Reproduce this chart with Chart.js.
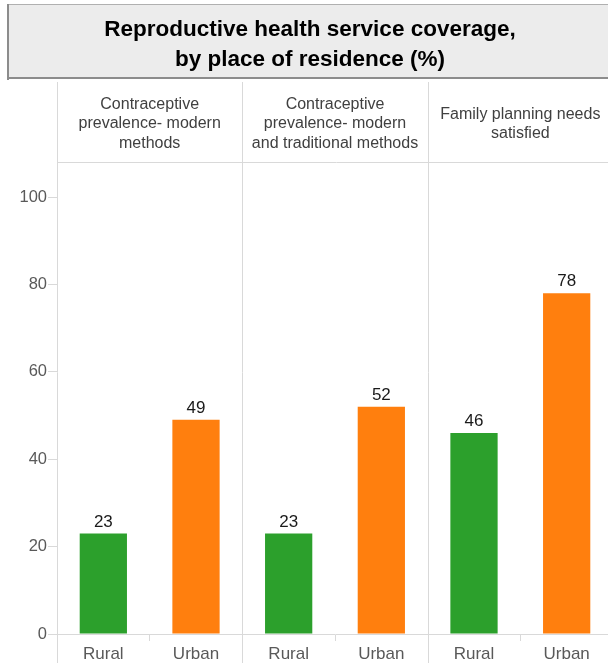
<!DOCTYPE html>
<html>
<head>
<meta charset="utf-8">
<script src="https://cdn.jsdelivr.net/npm/chart.js@4.4.1/dist/chart.umd.min.js"></script>
<style>
  html, body { margin: 0; padding: 0; background: #ffffff; overflow: hidden; }
  #wrap { width: 616px; height: 663px; }
</style>
</head>
<body>
<div id="wrap"><canvas id="chart" width="616" height="663"></canvas></div>
<script>
// Coverage indicators (panels) and place of residence (bars in each panel)
const indicators = [
  ['Contraceptive', 'prevalence- modern', 'methods'],
  ['Contraceptive', 'prevalence- modern', 'and traditional methods'],
  ['Family planning needs', 'satisfied']
];
const residence = ['Rural', 'Urban'];
const ruralValues = [23, 23, 46];
const urbanValues = [49, 52, 78];
const yTicks = [0, 20, 40, 60, 80, 100];
const titleLines = ['Reproductive health service coverage,', 'by place of residence (%)'];

const GREEN = '#2ca02c';
const ORANGE = '#ff7f0e';
const RULE = '#d9d9d9';
const FAMILY = '"Liberation Sans", Arial, sans-serif';

// Flatten panels into one category axis: Rural/Urban for each indicator
const labels = [];
const values = [];
const colors = [];
indicators.forEach((_, i) => {
  labels.push(residence[0]); values.push(ruralValues[i]); colors.push(GREEN);
  labels.push(residence[1]); values.push(urbanValues[i]); colors.push(ORANGE);
});

const HEADER_TOP = 82;
const HEADER_BOTTOM = 162;

const decorations = {
  id: 'decorations',
  beforeDraw(chart) {
    const ctx = chart.ctx;
    const x = chart.scales.x;
    const area = chart.chartArea;
    const half = (x.getPixelForValue(1) - x.getPixelForValue(0)) / 2;

    ctx.save();
    // Title box
    ctx.fillStyle = '#ececec';
    ctx.fillRect(8, 4, chart.width, 74);
    ctx.strokeStyle = '#b0b0b0';
    ctx.lineWidth = 1;
    ctx.strokeRect(8.5, 4.5, chart.width, 74);
    ctx.fillStyle = '#8c8c8c';
    ctx.fillRect(7, 4, 2, 76);
    ctx.fillRect(7, 77, chart.width, 2);

    ctx.fillStyle = '#000000';
    ctx.font = 'bold 22.5px ' + FAMILY;
    ctx.textAlign = 'center';
    ctx.textBaseline = 'middle';
    ctx.fillText(titleLines[0], 310, 30);
    ctx.fillText(titleLines[1], 310, 60);

    // Panel separators, header rule and header captions
    ctx.strokeStyle = RULE;
    ctx.lineWidth = 1;
    ctx.beginPath();
    for (let p = 0; p <= indicators.length; p++) {
      const px = Math.round(x.getPixelForValue(p * 2) - half) + 0.5;
      ctx.moveTo(px, HEADER_TOP);
      ctx.lineTo(px, chart.height);
    }
    ctx.moveTo(area.left, HEADER_BOTTOM + 0.5);
    ctx.lineTo(chart.width, HEADER_BOTTOM + 0.5);
    ctx.stroke();

    ctx.fillStyle = '#404040';
    ctx.font = '16px ' + FAMILY;
    const lineH = 19.5;
    indicators.forEach((lines, p) => {
      const cx = (x.getPixelForValue(p * 2) + x.getPixelForValue(p * 2 + 1)) / 2;
      const cy = (HEADER_TOP + HEADER_BOTTOM) / 2 + 2;
      const start = cy - (lines.length - 1) * lineH / 2;
      lines.forEach((t, k) => ctx.fillText(t, cx, start + k * lineH));
    });
    ctx.restore();
  },
  afterDatasetsDraw(chart) {
    const ctx = chart.ctx;
    const meta = chart.getDatasetMeta(0);
    ctx.save();
    ctx.fillStyle = '#1a1a1a';
    ctx.font = '17px ' + FAMILY;
    ctx.textAlign = 'center';
    ctx.textBaseline = 'bottom';
    meta.data.forEach((bar, i) => {
      ctx.fillText(String(values[i]), bar.x, bar.y - 3);
    });
    ctx.restore();
  }
};

new Chart(document.getElementById('chart'), {
  type: 'bar',
  data: {
    labels: labels,
    datasets: [{
      data: values,
      backgroundColor: colors,
      borderWidth: 0,
      categoryPercentage: 1,
      barPercentage: 0.51
    }]
  },
  options: {
    responsive: false,
    animation: false,
    devicePixelRatio: 1,
    layout: { padding: { top: 197, right: 3, left: 0, bottom: 0 } },
    plugins: {
      legend: { display: false },
      tooltip: { enabled: false },
      title: { display: false }
    },
    scales: {
      x: {
        afterFit(scale) { scale.height = 29; },
        grid: {
          offset: true,
          drawOnChartArea: false,
          tickLength: 7,
          color: (c) => (c.index % 2 === 1 ? RULE : 'rgba(0,0,0,0)')
        },
        border: { display: true, color: RULE, width: 1 },
        ticks: {
          color: '#595959',
          padding: 3,
          font: { family: FAMILY, size: 17 }
        }
      },
      y: {
        min: 0,
        max: 100,
        afterFit(scale) { scale.width = 57; },
        afterBuildTicks(scale) { scale.ticks = yTicks.map(v => ({ value: v })); },
        grid: {
          drawOnChartArea: false,
          tickLength: 9,
          color: RULE
        },
        border: { display: false },
        ticks: {
          color: '#595959',
          padding: 1,
          font: { family: FAMILY, size: 16.5 }
        }
      }
    }
  },
  plugins: [decorations]
});
</script>
</body>
</html>
